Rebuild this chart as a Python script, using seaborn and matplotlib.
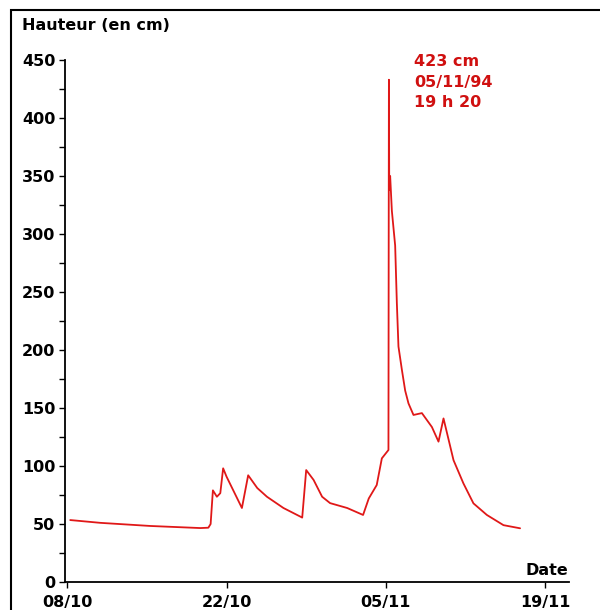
import numpy as np
import pandas as pd
import matplotlib
matplotlib.use('Agg')
import matplotlib.pyplot as plt
from matplotlib.patches import Rectangle
import seaborn as sns

# days counted from 08/10/94, water height in cm
days = [0.26, 2.9, 7.3, 11.7, 12.4, 12.6, 12.8, 13.15, 13.45, 13.7, 14.0,
        15.35, 15.9, 16.7, 17.55, 19.0, 20.5, 20.65, 21.0, 21.65, 22.4,
        23.1, 24.6, 26.0, 26.5, 27.2, 27.65, 28.23, 28.27, 28.3, 28.38,
        28.53, 28.82, 28.97, 29.11, 29.41, 29.7, 29.99, 30.43, 31.17,
        32.05, 32.63, 33.07, 33.95, 34.82, 35.7, 36.88, 38.34, 39.8]
hauteur = [53.4, 51, 48.3, 46.5, 46.8, 50, 79, 73.5, 76.6, 98, 90.8,
           63.8, 92, 81, 73.5, 63.8, 56.3, 55.5, 96.5, 88, 73.5,
           68, 63.8, 57.8, 72, 83.6, 106.6, 113.8, 433, 338, 350,
           320, 290, 240, 203, 183, 165, 154, 144, 145.6,
           133.6, 121, 141, 105, 85, 67.8, 57.8, 49, 46.3]

tick_days = [0, 14, 28, 42]
tick_labels = ['08/10', '22/10', '05/11', '19/11']
y_ticks = [0, 50, 100, 150, 200, 250, 300, 350, 400, 450]

peak_text = '423 cm\n05/11/94\n19 h 20'

df = pd.DataFrame({'jour': days, 'hauteur': hauteur})

sns.set_style('white')
plt.rcParams['font.family'] = ['DejaVu Sans']
plt.rcParams['text.color'] = 'black'
plt.rcParams['xtick.color'] = 'black'
plt.rcParams['ytick.color'] = 'black'

fs = 11.5

fig = plt.figure(figsize=(6, 6.1), dpi=100)
ax = fig.add_axes([65 / 600, 1 - 582 / 610, (569 - 65) / 600, (582 - 60) / 610])

sns.lineplot(data=df, x='jour', y='hauteur', ax=ax, color='#e01818',
             linewidth=1.3, estimator=None, sort=False)

ax.set_xlim(-0.2, 44.1)
ax.set_ylim(0, 450)
ax.set_xticks(tick_days)
ax.set_xticklabels(tick_labels, fontsize=fs, fontweight='bold')
ax.set_yticks(y_ticks)
ax.set_yticklabels([str(v) for v in y_ticks], fontsize=fs, fontweight='bold')
ax.set_yticks(np.arange(25, 450, 50), minor=True)
ax.tick_params(axis='both', which='both', direction='out', length=4, width=1,
               color='black', left=True, bottom=True)
ax.tick_params(axis='x', pad=5)
ax.tick_params(axis='y', pad=3)
ax.set_xlabel('')
ax.set_ylabel('')

for s in ['top', 'right']:
    ax.spines[s].set_visible(False)
for s in ['left', 'bottom']:
    ax.spines[s].set_color('black')
    ax.spines[s].set_linewidth(1.3)

ax.text(30.5, 431, peak_text, color='#d01010', fontsize=fs, fontweight='bold',
        ha='left', va='center', linespacing=1.45, clip_on=False)
ax.text(44.0, 9.5, 'Date', fontsize=fs, fontweight='bold', ha='right', va='center')

fig.text(22 / 600, 1 - 26 / 610, 'Hauteur (en cm)', fontsize=fs,
         fontweight='bold', ha='left', va='center')

# frame around the whole picture, cut off on the right and at the bottom
fig.patches.append(Rectangle((11 / 600, -0.1), 1.2, 1 - 10 / 610 + 0.1,
                             transform=fig.transFigure, fill=False,
                             edgecolor='black', linewidth=1.5))

fig.savefig('out.png', dpi=100)
